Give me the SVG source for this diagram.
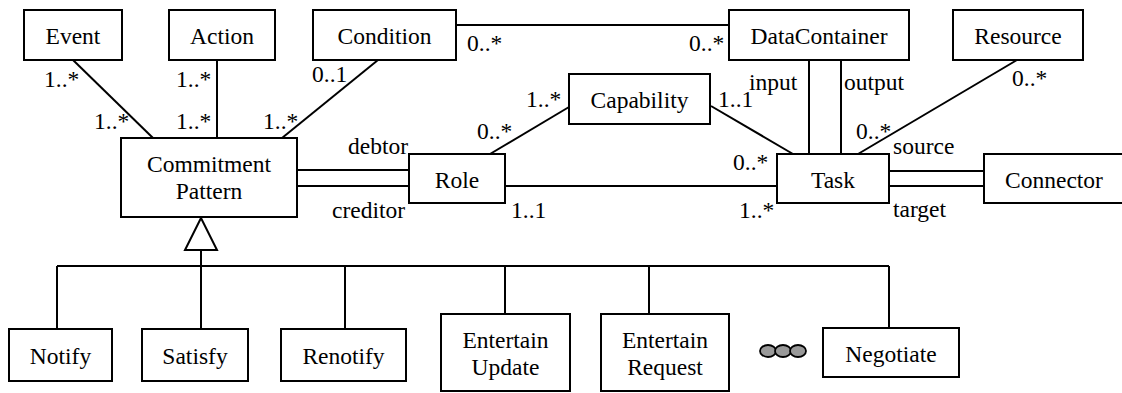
<svg xmlns="http://www.w3.org/2000/svg" width="1122" height="393" viewBox="0 0 1122 393">
<style>
  .box { fill: #ffffff; stroke: #000000; stroke-width: 2; }
  .ln { fill: none; stroke: #000000; stroke-width: 2; }
  .c { text-anchor: middle; }
  .dot { fill: #999999; stroke: #000000; stroke-width: 1.8; }
</style>
<rect x="0" y="0" width="1122" height="393" fill="#ffffff"/>

<g id="connectors">
  <line class="ln" x1="73" y1="60" x2="153" y2="138"/>
  <line class="ln" x1="217" y1="60" x2="217" y2="138"/>
  <line class="ln" x1="378" y1="60" x2="282" y2="138"/>
  <line class="ln" x1="456" y1="25" x2="729" y2="25"/>
  <line class="ln" x1="297" y1="170" x2="409" y2="170"/>
  <line class="ln" x1="297" y1="186" x2="409" y2="186"/>
  <line class="ln" x1="490" y1="154" x2="569" y2="107"/>
  <line class="ln" x1="711" y1="106" x2="793" y2="154"/>
  <line class="ln" x1="505" y1="186" x2="777" y2="186"/>
  <line class="ln" x1="809" y1="60" x2="809" y2="154"/>
  <line class="ln" x1="841" y1="60" x2="841" y2="154"/>
  <line class="ln" x1="1017" y1="60" x2="858" y2="154"/>
  <line class="ln" x1="889" y1="171" x2="984" y2="171"/>
  <line class="ln" x1="889" y1="186" x2="984" y2="186"/>
  <line class="ln" x1="201" y1="250" x2="201" y2="329"/>
  <line class="ln" x1="57" y1="266" x2="889" y2="266"/>
  <line class="ln" x1="57" y1="266" x2="57" y2="329"/>
  <line class="ln" x1="345" y1="266" x2="345" y2="329"/>
  <line class="ln" x1="505" y1="266" x2="505" y2="314"/>
  <line class="ln" x1="649" y1="266" x2="649" y2="314"/>
  <line class="ln" x1="889" y1="266" x2="889" y2="328"/>
  <polygon class="box" points="201,218 185,250 217,250"/>
</g>

<g id="labels" font-family="Liberation Serif" font-size="23.5" fill="#000000">
  <text x="44" y="87">1..*</text>
  <text x="94" y="129">1..*</text>
  <text x="176" y="87">1..*</text>
  <text x="176" y="129">1..*</text>
  <text x="312" y="82">0..1</text>
  <text x="263" y="129">1..*</text>
  <text x="467" y="51">0..*</text>
  <text x="689" y="51">0..*</text>
  <text x="526" y="107">1..*</text>
  <text x="477" y="139">0..*</text>
  <text x="718" y="107">1..1</text>
  <text x="733" y="170">0..*</text>
  <text x="511" y="218">1..1</text>
  <text x="739" y="218">1..*</text>
  <text x="749" y="90">input</text>
  <text x="844" y="90">output</text>
  <text x="1012" y="86">0..*</text>
  <text x="856" y="139">0..*</text>
  <text x="893" y="154">source</text>
  <text x="893" y="217">target</text>
  <text x="348" y="154">debtor</text>
  <text x="332" y="218">creditor</text>
</g>

<g id="nodes" font-family="Liberation Serif" font-size="23.5" fill="#000000">
<g id="event"><rect class="box" x="24" y="10" width="98" height="50"/><text class="c" x="73" y="44">Event</text></g>
<g id="action"><rect class="box" x="169" y="10" width="106" height="50"/><text class="c" x="222" y="44">Action</text></g>
<g id="condition"><rect class="box" x="313" y="10" width="143" height="50"/><text class="c" x="384.5" y="44">Condition</text></g>
<g id="datacontainer"><rect class="box" x="729" y="10" width="180" height="50"/><text class="c" x="819" y="44">DataContainer</text></g>
<g id="resource"><rect class="box" x="953" y="10" width="130" height="50"/><text class="c" x="1018" y="44">Resource</text></g>
<g id="capability"><rect class="box" x="569" y="74" width="141" height="50"/><text class="c" x="639.5" y="108">Capability</text></g>
<g id="commitmentpattern"><rect class="box" x="121" y="138" width="176" height="79"/><text class="c" x="209" y="172">Commitment</text><text class="c" x="209" y="199">Pattern</text></g>
<g id="role"><rect class="box" x="409" y="154" width="96" height="49"/><text class="c" x="457" y="188">Role</text></g>
<g id="task"><rect class="box" x="777" y="154" width="112" height="49"/><text class="c" x="833" y="188">Task</text></g>
<g id="connector"><rect class="box" x="984" y="154" width="142" height="49"/><text class="c" x="1054" y="188">Connector</text></g>
<g id="notify"><rect class="box" x="9" y="329" width="103" height="52"/><text class="c" x="60.5" y="364">Notify</text></g>
<g id="satisfy"><rect class="box" x="142" y="329" width="106" height="52"/><text class="c" x="195" y="364">Satisfy</text></g>
<g id="renotify"><rect class="box" x="281" y="329" width="125" height="52"/><text class="c" x="343.5" y="364">Renotify</text></g>
<g id="entertainupdate"><rect class="box" x="441" y="314" width="129" height="77"/><text class="c" x="505.5" y="348">Entertain</text><text class="c" x="505.5" y="375">Update</text></g>
<g id="entertainrequest"><rect class="box" x="601" y="314" width="128" height="77"/><text class="c" x="665" y="348">Entertain</text><text class="c" x="665" y="375">Request</text></g>
<g id="ellipsis">
  <ellipse class="dot" cx="768" cy="351" rx="8" ry="6"/>
  <ellipse class="dot" cx="783" cy="351" rx="8" ry="6"/>
  <ellipse class="dot" cx="798" cy="351" rx="8" ry="6"/>
</g>
<g id="negotiate"><rect class="box" x="823" y="328" width="136" height="49"/><text class="c" x="891" y="362">Negotiate</text></g>
</g>
</svg>
